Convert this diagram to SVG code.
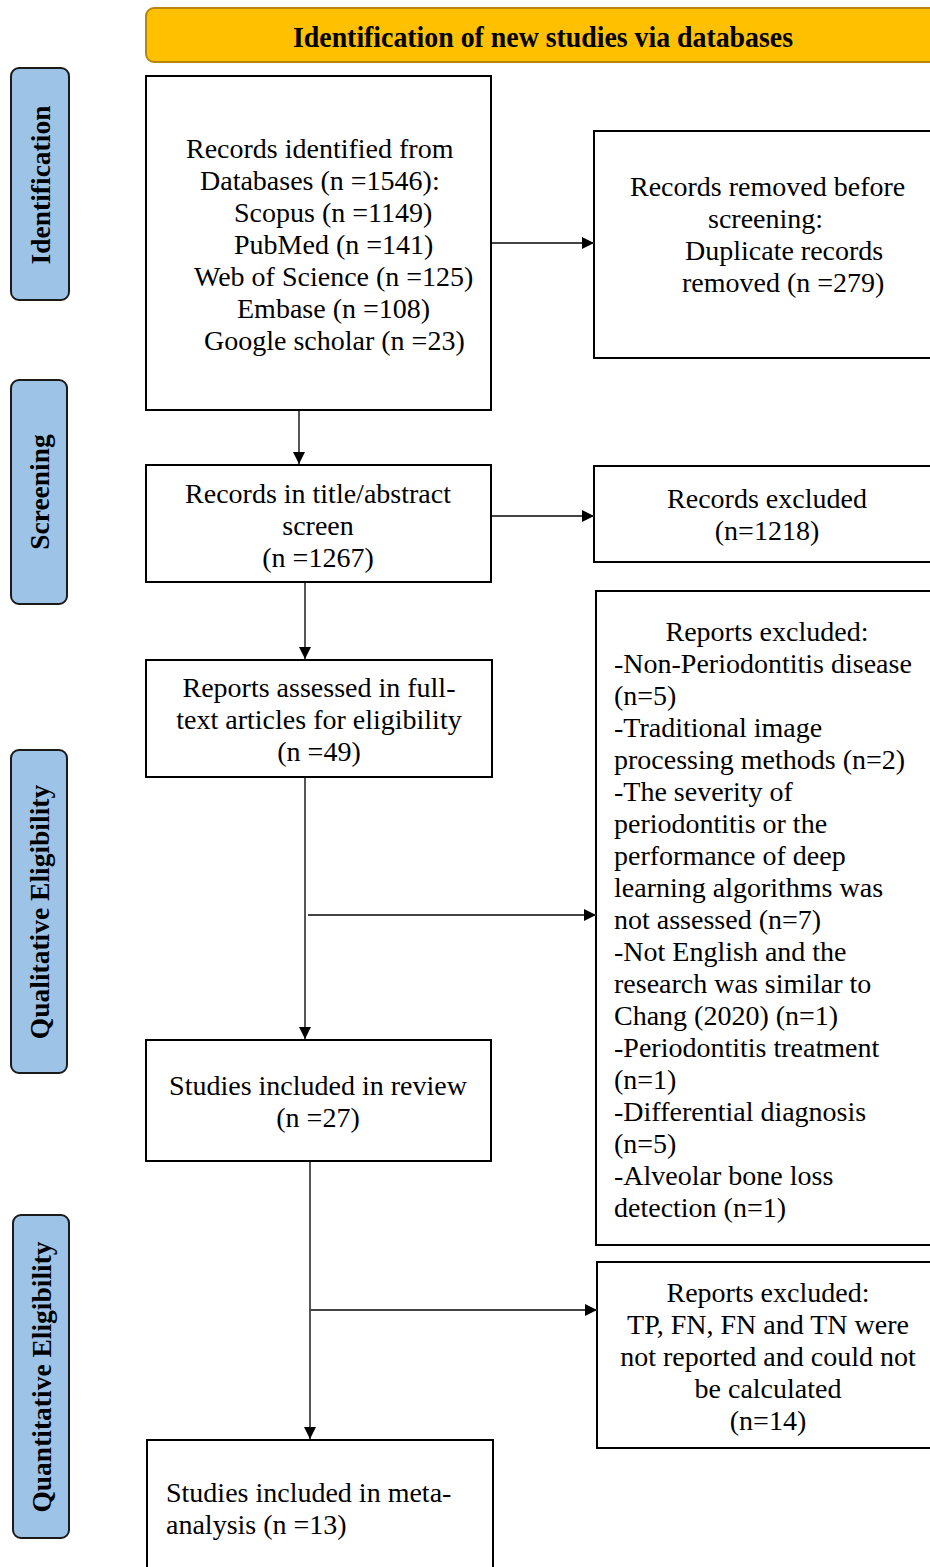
<svg xmlns="http://www.w3.org/2000/svg" width="930" height="1567" viewBox="0 0 930 1567">
<style>
.box{fill:#fff;stroke:#000;stroke-width:2}
.side{fill:#9DC3E6;stroke:#1a1a1a;stroke-width:2}
.t{font-family:"Liberation Serif","Times New Roman",serif;font-size:28px;fill:#000}
.c{text-anchor:middle}
.sl{font-family:"Liberation Serif","Times New Roman",serif;font-size:27.5px;font-weight:bold;fill:#000;text-anchor:middle}
.hd{font-family:"Liberation Serif","Times New Roman",serif;font-size:30px;font-weight:bold;fill:#000;text-anchor:middle}
.conn{stroke:#444;stroke-width:1.8;fill:none;marker-end:url(#ah)}
</style>
<defs>
<marker id="ah" viewBox="0 0 12 12" refX="12" refY="6" markerWidth="12" markerHeight="12" markerUnits="userSpaceOnUse" orient="auto">
<path d="M0,0 L12,6 L0,12 Z" fill="#000"/>
</marker>
</defs>
<rect width="930" height="1567" fill="#fff"/>
<g id="header">
<rect x="146" y="8" width="800" height="54" rx="8" fill="#FFC000" stroke="#B8860B" stroke-width="2"/>
<text x="543" y="47" class="hd" textLength="500" lengthAdjust="spacingAndGlyphs">Identification of new studies via databases</text>
</g>
<g id="side-identification">
<rect x="11" y="68" width="58" height="232" rx="8" class="side"/>
<text transform="translate(50,185) rotate(-90)" class="sl">Identification</text>
</g>
<g id="side-screening">
<rect x="11" y="380" width="56" height="224" rx="8" class="side"/>
<text transform="translate(49,492) rotate(-90)" class="sl">Screening</text>
</g>
<g id="side-qualitative">
<rect x="11" y="750" width="56" height="323" rx="8" class="side"/>
<text transform="translate(49,912) rotate(-90)" class="sl">Qualitative Eligibility</text>
</g>
<g id="side-quantitative">
<rect x="13" y="1215" width="56" height="323" rx="8" class="side"/>
<text transform="translate(51,1377) rotate(-90)" class="sl">Quantitative Eligibility</text>
</g>
<g id="box-identified">
<rect x="146" y="76" width="345" height="334" class="box"/>
<text class="t" x="186" y="158">Records identified from</text>
<text class="t" x="200" y="190">Databases (n =1546):</text>
<text class="t" x="234" y="222">Scopus (n =1149)</text>
<text class="t" x="234" y="254">PubMed (n =141)</text>
<text class="t" x="194" y="286">Web of Science (n =125)</text>
<text class="t" x="237" y="318">Embase (n =108)</text>
<text class="t" x="204" y="350">Google scholar (n =23)</text>
</g>
<g id="box-removed">
<rect x="594" y="131" width="346" height="227" class="box"/>
<text class="t" x="630" y="196">Records removed before</text>
<text class="t" x="708" y="228">screening:</text>
<text class="t" x="685" y="260">Duplicate records</text>
<text class="t" x="682" y="292">removed (n =279)</text>
</g>
<g id="box-screen">
<rect x="146" y="465" width="345" height="117" class="box"/>
<text class="t c" x="318" y="503">Records in title/abstract</text>
<text class="t c" x="318" y="535">screen</text>
<text class="t c" x="318" y="567">(n =1267)</text>
</g>
<g id="box-excluded">
<rect x="594" y="466" width="346" height="96" class="box"/>
<text class="t c" x="767" y="508">Records excluded</text>
<text class="t c" x="767" y="540">(n=1218)</text>
</g>
<g id="box-fulltext">
<rect x="146" y="660" width="346" height="117" class="box"/>
<text class="t c" x="319" y="697">Reports assessed in full-</text>
<text class="t c" x="319" y="729">text articles for eligibility</text>
<text class="t c" x="319" y="761">(n =49)</text>
</g>
<g id="box-reports-excluded">
<rect x="596" y="591" width="344" height="654" class="box"/>
<text class="t c" x="767" y="641">Reports excluded:</text>
<text class="t" x="614" y="673">-Non-Periodontitis disease</text>
<text class="t" x="614" y="705">(n=5)</text>
<text class="t" x="614" y="737">-Traditional image</text>
<text class="t" x="614" y="769">processing methods (n=2)</text>
<text class="t" x="614" y="801">-The severity of</text>
<text class="t" x="614" y="833">periodontitis or the</text>
<text class="t" x="614" y="865">performance of deep</text>
<text class="t" x="614" y="897">learning algorithms was</text>
<text class="t" x="614" y="929">not assessed (n=7)</text>
<text class="t" x="614" y="961">-Not English and the</text>
<text class="t" x="614" y="993">research was similar to</text>
<text class="t" x="614" y="1025">Chang (2020) (n=1)</text>
<text class="t" x="614" y="1057">-Periodontitis treatment</text>
<text class="t" x="614" y="1089">(n=1)</text>
<text class="t" x="614" y="1121">-Differential diagnosis</text>
<text class="t" x="614" y="1153">(n=5)</text>
<text class="t" x="614" y="1185">-Alveolar bone loss</text>
<text class="t" x="614" y="1217">detection (n=1)</text>
</g>
<g id="box-review">
<rect x="146" y="1040" width="345" height="121" class="box"/>
<text class="t c" x="318" y="1095">Studies included in review</text>
<text class="t c" x="318" y="1127">(n =27)</text>
</g>
<g id="box-quant-excluded">
<rect x="597" y="1262" width="343" height="186" class="box"/>
<text class="t c" x="768" y="1302">Reports excluded:</text>
<text class="t c" x="768" y="1334">TP, FN, FN and TN were</text>
<text class="t c" x="768" y="1366">not reported and could not</text>
<text class="t c" x="768" y="1398">be calculated</text>
<text class="t c" x="768" y="1430">(n=14)</text>
</g>
<g id="box-meta">
<rect x="147" y="1440" width="346" height="140" class="box"/>
<text class="t" x="166" y="1502">Studies included in meta-</text>
<text class="t" x="166" y="1534">analysis (n =13)</text>
</g>
<g id="connectors">
<line x1="492" y1="243" x2="594" y2="243" class="conn"/>
<line x1="299" y1="411" x2="299" y2="464" class="conn"/>
<line x1="492" y1="516" x2="594" y2="516" class="conn"/>
<line x1="305" y1="583" x2="305" y2="659" class="conn"/>
<line x1="305" y1="778" x2="305" y2="1039" class="conn"/>
<line x1="308" y1="915" x2="596" y2="915" class="conn"/>
<line x1="310" y1="1162" x2="310" y2="1439" class="conn"/>
<line x1="310" y1="1310" x2="597" y2="1310" class="conn"/>
</g>
</svg>
